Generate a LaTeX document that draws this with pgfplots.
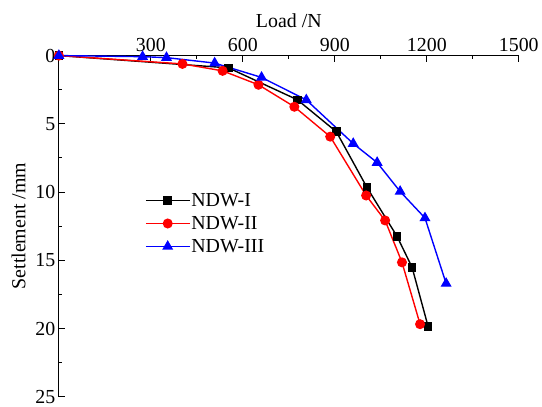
\documentclass[border=0pt]{standalone}
\usepackage{pgfplots}
\pgfplotsset{compat=1.18}
\usepackage{fontspec}
\setmainfont{Liberation Serif}

\newcommand{\chartfont}{\fontsize{20}{22}\selectfont}

\begin{document}
\begin{tikzpicture}
\begin{axis}[
    at={(0,0)}, anchor=north west,
    scale only axis,
    width=461bp, height=342bp,
    xmin=0, xmax=1500,
    ymin=0, ymax=25,
    y dir=reverse,
    axis x line*=top,
    axis y line*=left,
    axis line style={line width=0.9bp, -},
    xtick={300,600,900,1200,1500},
    ytick={0,5,10,15,20,25},
    minor x tick num=1,
    minor y tick num=1,
    tick align=inside,
    major tick length=6bp,
    minor tick length=3.5bp,
    tick style={line width=0.9bp, black},
    every tick label/.append style={font=\chartfont},
    xticklabel style={yshift=0bp},
    /pgf/number format/assume math mode=true,
    /pgf/number format/1000 sep={},
    xlabel={Load /N},
    ylabel={Settlement /mm},
    label style={font=\chartfont},
    xlabel style={yshift=4bp},
    ylabel style={yshift=3bp},
    legend style={draw=none, fill=none, font=\chartfont,
        at={(0.187,0.60)}, anchor=north west,
        row sep=6.5bp, inner sep=0bp,
        nodes={inner sep=1bp}},
    legend cell align=left,
    legend image code/.code={%
        \draw[mark repeat=2, mark phase=2]
        plot coordinates {(0bp,0bp) (22bp,0bp) (44bp,0bp)};},
    clip=false,
]
% NDW-I
\addplot[black, line width=1.4bp, mark=square*, mark size=3.6bp,
    mark options={solid}]
    coordinates {(0,0) (553,0.90) (778,3.24) (905,5.58) (1005,9.67)
                 (1103,13.25) (1152,15.52) (1204,19.83)};
\addlegendentry{NDW-I}
% NDW-II
\addplot[red, line width=1.4bp, mark=*, mark size=4.3bp,
    mark options={solid}]
    coordinates {(0,0) (403,0.61) (534,1.12) (651,2.14) (768,3.75)
                 (885,5.94) (1002,10.25) (1064,12.08) (1119,15.15) (1178,19.68)};
\addlegendentry{NDW-II}
% NDW-III
\addplot[blue, line width=1.4bp, mark=triangle*, mark size=5bp,
    mark options={solid}]
    coordinates {(0,0) (273,0.08) (351,0.15) (508,0.55) (661,1.6)
                 (807,3.25) (960,6.45) (1038,7.84) (1113,9.96) (1194,11.9) (1263,16.7)};
\addlegendentry{NDW-III}
\end{axis}
\path[use as bounding box] (-59bp,55.7bp) rectangle (483bp,-350.3bp);
\end{tikzpicture}
\end{document}
